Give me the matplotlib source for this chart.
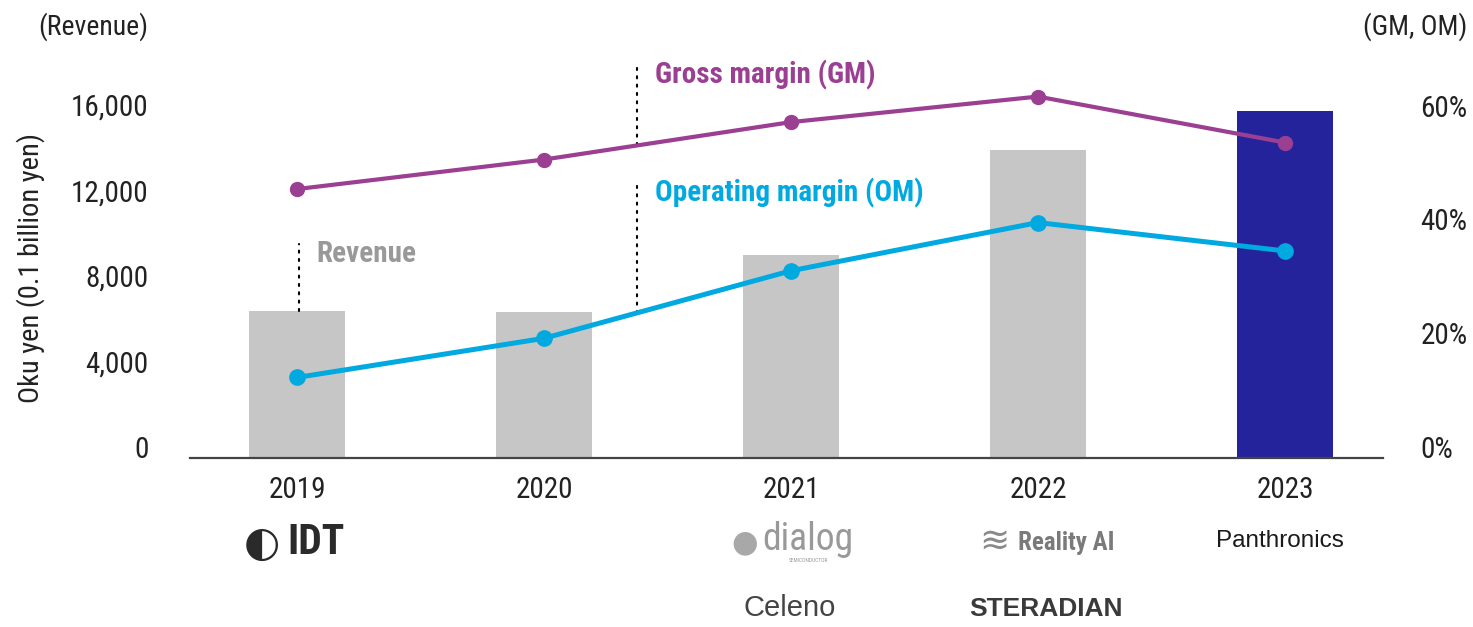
import numpy as np
import matplotlib
matplotlib.use('Agg')
import matplotlib.pyplot as plt

plt.rcParams['font.family'] = ['Roboto Condensed', 'DejaVu Sans']

years = ['2019', '2020', '2021', '2022', '2023']
revenue = [6870, 6820, 9490, 14410, 16240]      # oku yen
gross_margin = [47.3, 52.5, 59.1, 63.6, 55.5]    # %
op_margin = [14.1, 21.0, 32.9, 41.4, 36.4]       # %
rev_ticks = [0, 4000, 8000, 12000, 16000]
pct_ticks = [0, 20, 40, 60]

bar_colors = ['#c6c6c6'] * 4 + ['#25239b']
c_gm = '#9b3f93'
c_om = '#00a9e0'
c_txt = '#222222'

W, H = 1473, 627
fig = plt.figure(figsize=(W / 100, H / 100), dpi=100, facecolor='white')
ax = fig.add_axes([190 / W, 1 - 457.5 / H, (1383 - 190) / W, (457.5 - 40) / H])
x = np.arange(len(years))

ax.bar(x, revenue, width=0.389, color=bar_colors, zorder=2)
ax.set_xlim(-0.433, 4.397)
ax.set_ylim(0, 417.5 / 21.34 * 1000)
ax.set_yticks(rev_ticks)
ax.set_yticklabels([f'{v:,}' for v in rev_ticks])
ax.set_xticks(x)
ax.set_xticklabels(years)
ax.tick_params(axis='y', length=0, pad=30, labelsize=21, labelcolor=c_txt)
ax.tick_params(axis='x', length=0, pad=13, labelsize=21, labelcolor=c_txt)
for lab in ax.get_yticklabels():
    lab.set_va('baseline')
for s in ['top', 'left', 'right']:
    ax.spines[s].set_visible(False)
ax.spines['bottom'].set_color('#444444')
ax.spines['bottom'].set_linewidth(1.6)
ax.spines['bottom'].set_zorder(3)

ax2 = ax.twinx()
ax2.set_ylim(0, 417.5 / 5.675)
ax2.plot(x, gross_margin, color=c_gm, lw=3, marker='o', ms=10, zorder=4)
ax2.plot(x, op_margin, color=c_om, lw=3.6, marker='o', ms=11, zorder=4)
ax2.set_yticks(pct_ticks)
ax2.set_yticklabels([f'{v}%' for v in pct_ticks])
ax2.tick_params(axis='y', length=0, pad=27, labelsize=21, labelcolor=c_txt)
for lab in ax2.get_yticklabels():
    lab.set_va('baseline')
for s in ['top', 'left', 'right', 'bottom']:
    ax2.spines[s].set_visible(False)

# annotations with dotted leaders
dot = dict(color='black', lw=1.5, ls=(0, (1, 3)), dash_capstyle='round')
xa = 1.377
ax2.plot([xa, xa], [np.interp(xa, x, gross_margin), 69.3], **dot)
ax2.text(1.449, 67.4, 'Gross margin (GM)', color=c_gm, fontsize=21,
         fontweight='bold', va='center', ha='left')
ax2.plot([xa, xa], [np.interp(xa, x, op_margin), 48.4], **dot)
ax2.text(1.449, 46.6, 'Operating margin (OM)', color=c_om, fontsize=21,
         fontweight='bold', va='center', ha='left')
ax.plot([0.008, 0.008], [revenue[0], 10000], zorder=3, **dot)
ax.text(0.077, 9530, 'Revenue', color='#999999', fontsize=21,
        fontweight='bold', va='center', ha='left')

# axis titles
fig.text(148 / W, 1 - 27 / H, '(Revenue)', ha='right', va='center',
         fontsize=20, color=c_txt)
fig.text(1467 / W, 1 - 27 / H, '(GM, OM)', ha='right', va='center',
         fontsize=20, color=c_txt)
fig.text(31 / W, 1 - 268 / H, 'Oku yen (0.1 billion yen)', rotation=90,
         ha='center', va='center', fontsize=20.5, color=c_txt)

# acquired companies (logos as text)
sym = ['DejaVu Sans']
fig.text(262 / W, 1 - 544 / H, '◐', ha='center', va='center',
         fontsize=30, color='#2a2a2a', family=sym)
fig.text(316 / W, 1 - 543 / H, 'IDT', ha='center', va='center',
         fontsize=30, fontweight='bold', color='#2a2a2a')
fig.text(745 / W, 1 - 543 / H, '●', ha='center', va='center',
         fontsize=22, color='#a8a8a8', family=sym)
fig.text(808 / W, 1 - 540 / H, 'dialog', ha='center', va='center',
         fontsize=27, color='#999999')
fig.text(808 / W, 1 - 561 / H, 'SEMICONDUCTOR', ha='center', va='center',
         fontsize=4, color='#999999')
fig.text(790 / W, 1 - 608 / H, 'Celeno', ha='center', va='center',
         fontsize=21, color='#444444', family=['Liberation Sans'])
fig.text(994 / W, 1 - 543 / H, '≋', ha='center', va='center',
         fontsize=26, color='#8a8a8a', family=sym)
fig.text(1066 / W, 1 - 543 / H, 'Reality AI', ha='center', va='center',
         fontsize=18, fontweight='bold', color='#7a7a7a')
fig.text(1046 / W, 1 - 609 / H, 'STERADIAN', ha='center', va='center',
         fontsize=19, fontweight='bold', color='#3a3a3a',
         family=['Liberation Sans'])
fig.text(1280 / W, 1 - 541 / H, 'Panthronics', ha='center', va='center',
         fontsize=17.5, color='#1a1a1a', family=['Liberation Sans'])

fig.savefig('out.png', dpi=100, facecolor='white')
